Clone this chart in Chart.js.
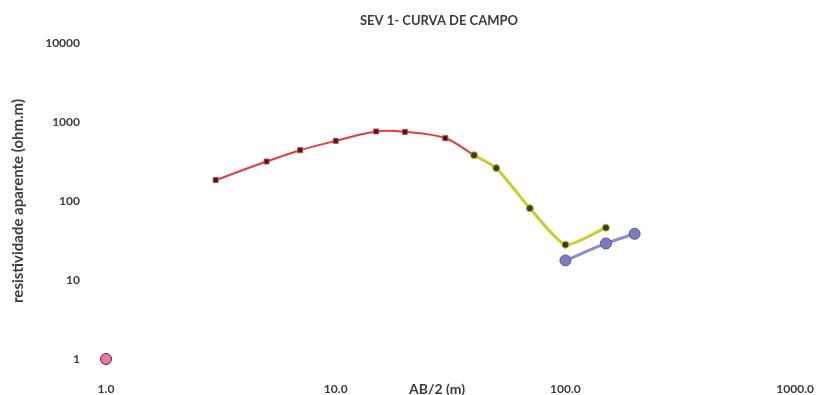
<!DOCTYPE html>
<html>
<head>
<meta charset="utf-8">
<title>SEV 1- CURVA DE CAMPO</title>
<script src="https://cdn.jsdelivr.net/npm/chart.js@4.4.1/dist/chart.umd.min.js"></script>
<style>
  html, body { margin: 0; padding: 0; background: #fff; }
  #wrap { width: 829px; height: 395px; }
</style>
</head>
<body>
<div id="wrap"><canvas id="sev"></canvas></div>
<script>
// AB/2 (m) and apparent resistivity (ohm.m)
const abRed = [3, 5, 7, 10, 15, 20, 30, 40];
const rhoRed = [184, 316, 440, 577, 760, 750, 624, 380];
const abYellow = [40, 50, 70, 100, 150];
const rhoYellow = [380, 261, 81, 28, 46];
const abBlue = [100, 150, 200];
const rhoBlue = [17.7, 29, 38.5];
const abOrigin = [1];
const rhoOrigin = [1];

const xTicks = [1, 10, 100, 1000];
const yTicks = [1, 10, 100, 1000, 10000];

const chartTitle = 'SEV 1- CURVA DE CAMPO';
const xTitle = 'AB/2 (m)';
const yTitle = 'resistividade aparente (ohm.m)';

const textColor = '#3c3c3c';
const fontName = 'Lato';

const toPoints = (xs, ys) => xs.map((x, i) => ({ x: x, y: ys[i] }));

// title and x title sit off-centre from the plot, so draw them by hand
const titlesPlugin = {
  id: 'titles',
  afterDraw(chart) {
    const ctx = chart.ctx;
    ctx.save();
    ctx.fillStyle = textColor;
    ctx.textAlign = 'center';
    ctx.textBaseline = 'middle';
    ctx.font = `bold 13px ${fontName}`;
    ctx.fillText(chartTitle, 439, 21);
    ctx.font = `bold 14px ${fontName}`;
    ctx.fillText(xTitle, 437, 389);
    ctx.restore();
  }
};

const ctx = document.getElementById('sev').getContext('2d');
const chart = new Chart(ctx, {
  type: 'line',
  data: {
    datasets: [
      {
        label: 'origem',
        data: toPoints(abOrigin, rhoOrigin),
        showLine: false,
        borderColor: '#4a3038',
        backgroundColor: '#e8789e',
        pointStyle: 'circle',
        pointRadius: 5.5,
        pointBackgroundColor: '#e8789e',
        pointBorderColor: '#4a3038',
        pointBorderWidth: 1,
        clip: false
      },
      {
        label: 'azul',
        data: toPoints(abBlue, rhoBlue),
        borderColor: '#8c8cd2',
        borderWidth: 3,
        tension: 0.3,
        pointStyle: 'circle',
        pointRadius: 5.5,
        pointBackgroundColor: '#7c7cbe',
        pointBorderColor: '#55558a',
        pointBorderWidth: 1
      },
      {
        label: 'amarelo',
        data: toPoints(abYellow, rhoYellow),
        borderColor: '#cbcb2c',
        borderWidth: 3,
        tension: 0.2,
        pointStyle: 'circle',
        pointRadius: 3.5,
        pointBackgroundColor: '#3c3c1e',
        pointBorderColor: '#b8b830',
        pointBorderWidth: 1
      },
      {
        label: 'vermelho',
        data: toPoints(abRed, rhoRed),
        borderColor: '#e0403c',
        borderWidth: 2,
        tension: 0.35,
        pointStyle: 'rect',
        pointRadius: 3.5,
        pointBackgroundColor: '#3a1c1c',
        pointBorderColor: '#d04040',
        pointBorderWidth: 1
      }
    ]
  },
  options: {
    responsive: true,
    maintainAspectRatio: false,
    animation: false,
    layout: { padding: { top: 43, right: 32, left: 0, bottom: 0 } },
    plugins: {
      legend: { display: false },
      title: { display: false },
      tooltip: { enabled: false }
    },
    scales: {
      x: {
        type: 'logarithmic',
        min: 1,
        max: 1000,
        grid: { display: false },
        border: { display: false },
        afterBuildTicks: (scale) => { scale.ticks = xTicks.map(v => ({ value: v })); },
        afterFit: (scale) => { scale.height = 36; },
        ticks: {
          padding: 15,
          maxRotation: 0,
          color: textColor,
          font: { family: fontName, size: 12, weight: 'bold' },
          callback: (value) => Number(value).toFixed(1)
        }
      },
      y: {
        type: 'logarithmic',
        min: 1,
        max: 10000,
        grid: { display: false },
        border: { display: false },
        afterBuildTicks: (scale) => { scale.ticks = yTicks.map(v => ({ value: v })); },
        afterFit: (scale) => { scale.width = 106; },
        ticks: {
          padding: 18,
          color: textColor,
          font: { family: fontName, size: 12, weight: 'bold' },
          callback: (value) => String(value)
        },
        title: {
          display: true,
          text: yTitle,
          color: textColor,
          font: { family: fontName, size: 15, weight: 'bold' },
          padding: { top: 9, bottom: 0 }
        }
      }
    }
  },
  plugins: [titlesPlugin]
});
</script>
</body>
</html>
